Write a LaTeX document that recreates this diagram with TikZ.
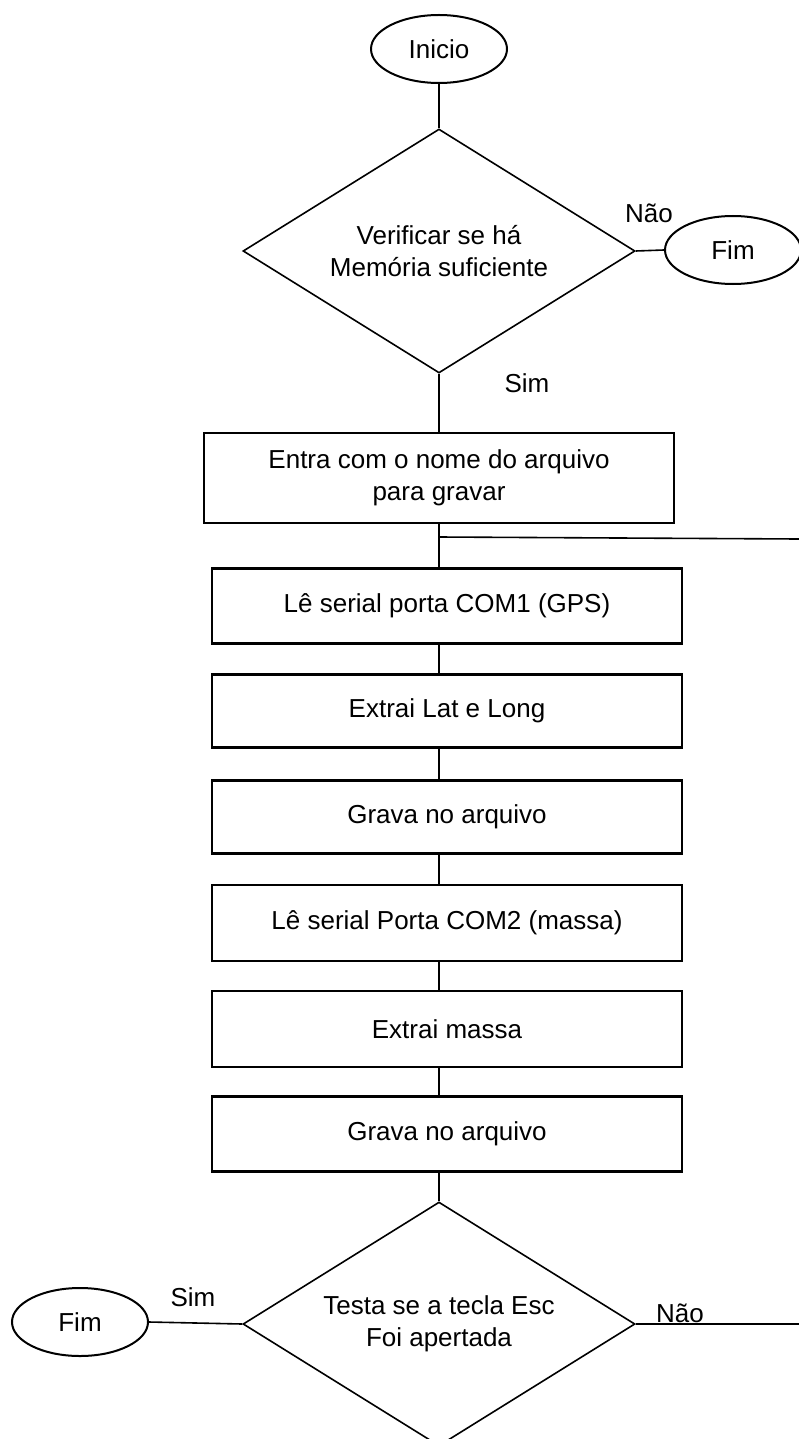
\documentclass[tikz,border=0pt]{standalone}
\usepackage{fontspec}
\setmainfont{Liberation Sans}
\usetikzlibrary{shapes.geometric}

\tikzset{
  caixa/.style={draw, line width=2.6pt, minimum width=470pt, minimum height=75pt,
    inner sep=0pt, align=center},
  decisao/.style={draw, diamond, aspect=1.6, line width=1.6pt, minimum width=392pt,
    minimum height=244pt, inner sep=0pt, align=center},
  terminal/.style={draw, ellipse, line width=2pt, minimum width=136pt,
    minimum height=68pt, inner sep=0pt},
  liga/.style={line width=1.6pt},
  rotulo/.style={inner sep=0pt}
}

\begin{document}
\begin{tikzpicture}
[x=1pt,y=-1pt,font=\fontsize{26}{32}\selectfont]
\useasboundingbox (0,0) rectangle (799,1439);
\clip (0,0) rectangle (799,1439);

\node[terminal] (inicio) at (439,49) {Inicio};
\node[decisao] (memoria) at (439,251) {Verificar se há\\Memória suficiente};
\node[terminal] (fim1) at (733,250) {Fim};

\node[caixa,minimum height=90pt] (nome) at (439,478)
{Entra com o nome do arquivo\\para gravar};
\node[caixa] (com1) at (447,606) {Lê serial porta COM1 (GPS)};
\node[caixa,minimum height=73pt] (latlong) at (447,711) {Extrai Lat e Long};
\node[caixa,minimum height=73pt] (grava1) at (447,817) {Grava no arquivo};
\node[caixa,minimum height=76pt] (com2) at (447,923) {Lê serial Porta COM2 (massa)};
\node[caixa,minimum height=76pt] (massa) at (447,1029) {Extrai massa};
\node[caixa] (grava2) at (447,1134) {Grava no arquivo};

\node[decisao] (esc) at (439,1324) {Testa se a tecla Esc\\Foi apertada};
\node[terminal] (fim2) at (80,1322) {Fim};

\node[rotulo] (nao1) at (649,213) {Não};
\node[rotulo] (sim1) at (527,383) {Sim};
\node[rotulo] (sim2) at (193,1297) {Sim};
\node[rotulo] (nao2) at (680,1313) {Não};

\coordinate (ramo) at (439,537);
\coordinate (volta) at (799,539);
\coordinate (saida) at (799,1324);

\draw[liga] (inicio.south) -- (memoria.north);
\draw[liga] (memoria.east) -- (fim1.west);
\draw[liga] (memoria.south) -- (nome.north);
\draw[liga] (nome.south) -- (com1.north -| nome.south);
\draw[liga] (ramo) -- (volta);
\foreach \a/\b in {com1/latlong,latlong/grava1,grava1/com2,com2/massa,massa/grava2}
  \draw[liga] (\a.south -| nome.south) -- (\b.north -| nome.south);
\draw[liga] (grava2.south -| nome.south) -- (esc.north);
\draw[liga] (esc.west) -- (fim2.east);
\draw[liga] (esc.east) -- (saida);
\end{tikzpicture}
\end{document}
